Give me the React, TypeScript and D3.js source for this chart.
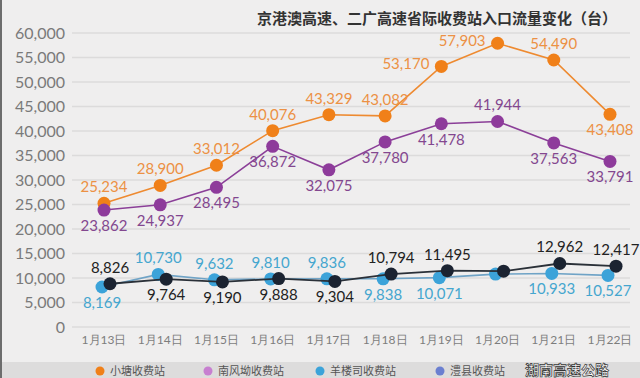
import React from "react";
import * as d3 from "d3";

const categories = ["1月13日", "1月14日", "1月15日", "1月16日", "1月17日", "1月18日", "1月19日", "1月20日", "1月21日", "1月22日"];
const xiaotang = [25234, 28900, 33012, 40076, 43329, 43082, 53170, 57903, 54490, 43408];
const nanfengao = [23862, 24937, 28495, 36872, 32075, 37780, 41478, 41944, 37563, 33791];
const yanglousi = [8169, 10730, 9632, 9810, 9836, 9838, 10071, 10800, 10933, 10527];
const fourth = [8826, 9764, 9190, 9888, 9304, 10794, 11495, 11400, 12962, 12417];
const showLabel3 = [true, true, true, true, true, true, true, false, true, true];
const showLabel4 = [true, true, true, true, true, true, true, false, true, true];
const pos1 = ["a", "a", "a", "a", "a", "a", "l", "l", "a", "b"];
const pos2 = ["b", "b", "b", "b", "b", "b", "b", "a", "b", "b"];
const pos3 = ["b", "a", "a", "a", "a", "b", "b", "b", "b", "b"];
const pos4 = ["a", "b", "b", "b", "b", "a", "a", "a", "a", "a"];
const yTicks = [0, 5000, 10000, 15000, 20000, 25000, 30000, 35000, 40000, 45000, 50000, 55000, 60000];
const legendNames = ["小塘收费站", "南风坳收费站", "羊楼司收费站", "澧县收费站"];
const title = "京港澳高速、二广高速省际收费站入口流量变化（台）";

const W = 640, H = 378;

export default function App() {
  const x = d3.scalePoint<string>().domain(categories).range([104, 610]);
  const y = d3.scaleLinear().domain([0, 60000]).range([327, 33]);
  const fmt = d3.format(",");
  const font = "Lato, 'Noto Sans', sans-serif";

  const series = [
    { data: xiaotang, pos: pos1, show: xiaotang.map(() => true), dx: 0, line: "#ee8a30", dot: "#f08019", label: "#ec9144", lw: 1.6 },
    { data: nanfengao, pos: pos2, show: nanfengao.map(() => true), dx: 0, line: "#8b3f98", dot: "#8e3b9b", label: "#83478f", lw: 1.6 },
    { data: yanglousi, pos: pos3, show: showLabel3, dx: -2, line: "#6fa3c6", dot: "#3ca3d9", label: "#45a6cf", lw: 1.6 },
    { data: fourth, pos: pos4, show: showLabel4, dx: 6, line: "#2a3038", dot: "#1b2331", label: "#222222", lw: 1.8 },
  ];

  const legendX = [100, 208, 320, 440];
  const legendColors = ["#f08019", "#c77fd0", "#3ca3d9", "#6b7fd0"];

  return (
    <svg width={W} height={H} style={{ position: "absolute", left: 0, top: 0 }}>
      <rect x={0} y={0} width={W} height={H} fill="#efeeee" />
      <rect x={0} y={362} width={W} height={16} fill="#dddcdc" />
      <rect x={0} y={0} width={2} height={H} fill="#6d6d6d" />
      {yTicks.map((t) => (
        <g key={t}>
          <line x1={72} x2={630} y1={y(t)} y2={y(t)} stroke="#dcdbdb" strokeWidth={1.5} />
          <text x={65} y={y(t) + 5.5} textAnchor="end" fontFamily={font} fontSize={16} fill="#7a7a7a">
            {fmt(t)}
          </text>
        </g>
      ))}
      {categories.map((c) => (
        <text key={c} x={x(c)} y={344} textAnchor="middle" fontFamily={font} fontSize={12} fill="#7d7d7d">
          {c}
        </text>
      ))}
      <text x={617} y={24} textAnchor="end" fontFamily="'Noto Sans CJK SC', sans-serif" fontWeight="bold" fontSize={15} fill="#333">
        {title}
      </text>
      {series.map((s, si) => {
        const line = d3
          .line<number>()
          .x((_, i) => (x(categories[i]) as number) + s.dx)
          .y((v) => y(v));
        return (
          <g key={si}>
            <path d={line(s.data) || ""} fill="none" stroke={s.line} strokeWidth={s.lw} />
            {s.data.map((v, i) => (
              <circle key={i} cx={(x(categories[i]) as number) + s.dx} cy={y(v)} r={6.5} fill={s.dot} />
            ))}
          </g>
        );
      })}
      {series.map((s, si) => (
        <g key={"l" + si}>
          {s.data.map((v, i) => {
            if (!s.show[i]) return null;
            const cx = (x(categories[i]) as number) + s.dx;
            const cy = y(v);
            const p = s.pos[i];
            let tx = cx, ty = cy - 11, anchor: any = "middle";
            if (p === "b") ty = cy + 21;
            if (p === "l") { tx = cx - 12; ty = cy + 3; anchor = "end"; }
            return (
              <text key={i} x={tx} y={ty} textAnchor={anchor} fontFamily={font} fontSize={15} fill={s.label}>
                {fmt(v)}
              </text>
            );
          })}
        </g>
      ))}
      {legendNames.map((n, i) => (
        <g key={n}>
          <circle cx={legendX[i]} cy={371} r={4.5} fill={legendColors[i]} />
          <text x={legendX[i] + 10} y={375} fontFamily="'Noto Sans CJK SC', sans-serif" fontSize={11} fill="#555">
            {n}
          </text>
        </g>
      ))}
      <text x={525} y={375} fontFamily="'Noto Sans CJK SC', sans-serif" fontSize={14} fontWeight="bold" fill="#ffffff" stroke="#333" strokeWidth={0.7}>
        湖南高速公路
      </text>
    </svg>
  );
}
